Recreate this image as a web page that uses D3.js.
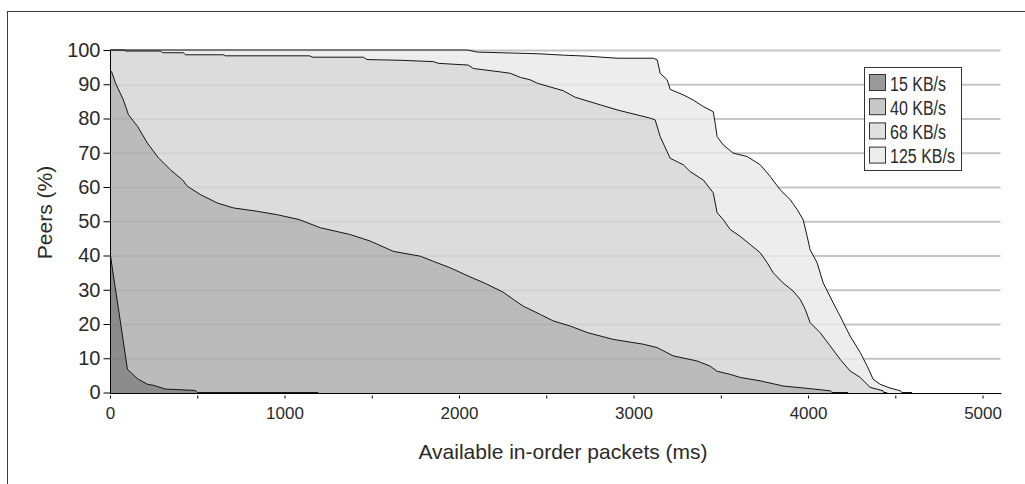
<!DOCTYPE html>
<html>
<head>
<meta charset="utf-8">
<script src="https://cdn.jsdelivr.net/npm/d3@7"></script>
<style>
  body { margin: 0; background: #fff; }
  svg { display: block; font-family: "Liberation Sans", Arial, sans-serif; }
</style>
</head>
<body>
<div id="chart"></div>
<script>
const seriesNames = ["15 KB/s", "40 KB/s", "68 KB/s", "125 KB/s"];
const xTicks = [0, 1000, 2000, 3000, 4000, 5000];
const xMinorTicks = [500, 1500, 2500, 3500, 4500];
const yTicks = [0, 10, 20, 30, 40, 50, 60, 70, 80, 90, 100];

// [packets (ms), peers (%)]
const kb15 = [[0, 40], [17, 34], [46, 24.3], [97, 6.8], [155, 4], [212, 2.4], [246, 2.1],
  [315, 1.0], [487, 0.6], [498, 0], [1191, 0]];

const kb40 = [[0, 94], [6, 93.7], [29, 90.3], [74, 85.4], [103, 81.1], [155, 77.7], [212, 72.8],
  [275, 68.5], [344, 65.0], [412, 62.1], [441, 60.2], [515, 57.8], [613, 55.3], [704, 53.9],
  [842, 52.9], [956, 51.9], [1080, 50.5], [1203, 48.1], [1375, 46.1], [1489, 44.2], [1621, 41.2],
  [1775, 39.8], [1850, 38.3], [1947, 36.4], [2050, 34], [2150, 31.8], [2250, 29.3], [2308, 27.2],
  [2365, 25.2], [2463, 22.8], [2537, 20.9], [2635, 19.4], [2732, 17.5], [2881, 15.5], [3053, 14.1],
  [3133, 13.1], [3224, 10.7], [3362, 9.2], [3436, 7.7], [3476, 6.2], [3551, 5.3], [3608, 4.4],
  [3723, 3.4], [3854, 1.9], [3992, 1.2], [4124, 0.5], [4135, 0], [4227, 0]];

const kb68 = [[0, 100], [74, 100], [90, 99.7], [286, 99.7], [300, 99.2], [418, 99.2], [430, 98.6],
  [647, 98.6], [660, 98.3], [1140, 98.3], [1160, 97.9], [1450, 97.9], [1470, 97.2], [1661, 97.0],
  [1850, 96.6], [1879, 96.1], [2050, 95.6], [2079, 94.6], [2234, 93.6], [2291, 93.2], [2348, 92.0],
  [2405, 91.3], [2446, 90.3], [2595, 88.1], [2663, 86.2], [2806, 84.0], [2904, 82.5], [3093, 80.1],
  [3121, 79.6], [3150, 74.7], [3207, 68.4], [3282, 66.5], [3322, 64.5], [3379, 62.6], [3396, 62.1],
  [3454, 58.3], [3476, 52.5], [3511, 50.5], [3551, 47.6], [3608, 45.6], [3666, 43.2], [3723, 40.8],
  [3763, 37.9], [3797, 35.0], [3854, 32.0], [3912, 29.6], [3952, 27.2], [3981, 24.3], [4009, 20.4],
  [4066, 17.5], [4124, 13.6], [4181, 9.7], [4238, 6.3], [4296, 4.4], [4353, 1.5], [4427, 0.5],
  [4430, 0], [4450, 0]];

const kb125 = [[0, 100], [2045, 100], [2102, 99.4], [2451, 98.9], [2595, 98.5], [2732, 98.2],
  [2904, 97.6], [3110, 97.6], [3133, 97.1], [3150, 93.2], [3190, 91.3], [3207, 88.5], [3282, 86.9],
  [3339, 85.4], [3396, 83.5], [3454, 82.0], [3465, 78.6], [3476, 74.7], [3511, 72.3], [3568, 69.9],
  [3648, 68.9], [3723, 66.5], [3780, 63.1], [3837, 59.2], [3895, 56.3], [3935, 53.4], [3969, 50.5],
  [3992, 45.6], [4009, 41.7], [4049, 37.9], [4084, 32.0], [4141, 26.2], [4181, 22.3], [4238, 16.5],
  [4296, 11.7], [4336, 7.7], [4370, 3.9], [4410, 2.4], [4467, 1.3], [4525, 0.5], [4536, 0], [4593, 0]];

const series = [kb15, kb40, kb68, kb125];
const areaColors = ["#8c8c8c", "#bbbbbb", "#dcdcdc", "#ededed"];
const swatchColors = ["#9a9a9a", "#c8c8c8", "#e0e0e0", "#ececec"];

const width = 1025, height = 484;

const svg = d3.select("#chart")
  .append("svg")
  .attr("width", width)
  .attr("height", height);

// outer frame
svg.append("rect")
  .attr("x", 7.5)
  .attr("y", 11.5)
  .attr("width", 1030)
  .attr("height", 480)
  .attr("fill", "#fff")
  .attr("stroke", "#3a3a3a");

const xScale = d3.scaleLinear().domain([0, 5100]).range([110.5, 1000.5]);
const yScale = d3.scaleLinear().domain([0, 100]).range([392.5, 50]);
const axisY = 393.5; // x axis sits one pixel under the zero level

// gridlines under the areas
const yGrid = d3.axisLeft(yScale).tickValues(yTicks.slice(1))
  .tickSize(-(xScale.range()[1] - xScale.range()[0])).tickFormat("");
svg.append("g")
  .attr("transform", `translate(${xScale(0)},0)`)
  .call(yGrid)
  .call((g) => g.select(".domain").remove())
  .call((g) => g.selectAll("line").attr("stroke", "#cdcdcd").attr("stroke-width", 2));

const area = d3.area()
  .x((d) => xScale(d[0]))
  .y0(axisY)
  .y1((d) => yScale(d[1]));

const line = d3.line()
  .x((d) => xScale(d[0]))
  .y((d) => yScale(d[1]));

// largest first so the smaller rates sit on top
for (let i = series.length - 1; i >= 0; i--) {
  svg.append("path")
    .datum(series[i])
    .attr("d", area)
    .attr("fill", areaColors[i]);
}

// faint gridlines over the fills
svg.append("g")
  .attr("transform", `translate(${xScale(0)},0)`)
  .call(yGrid)
  .call((g) => g.select(".domain").remove())
  .call((g) => g.selectAll("line").attr("stroke", "rgba(0,0,0,0.045)").attr("stroke-width", 2));

for (let i = series.length - 1; i >= 0; i--) {
  svg.append("path")
    .datum(series[i])
    .attr("d", line)
    .attr("fill", "none")
    .attr("stroke", "#151515")
    .attr("stroke-width", 1);
}

// Y axis
const yAxis = d3.axisLeft(yScale).tickValues(yTicks).tickSize(7).tickPadding(3);
svg.append("g")
  .attr("transform", `translate(${xScale(0)},0)`)
  .call(yAxis)
  .call((g) => g.select(".domain").attr("stroke", "#000").attr("d", `M0,${yScale(100)}V${axisY}`))
  .call((g) => g.selectAll("text")
    .attr("font-size", 20)
    .attr("fill", "#2a2a2a")
    .attr("font-family", "Liberation Sans, Arial, sans-serif"));

// X axis
svg.append("line")
  .attr("x1", xScale(0))
  .attr("x2", 1001.5)
  .attr("y1", axisY)
  .attr("y2", axisY)
  .attr("stroke", "#000");

svg.append("g")
  .selectAll("line")
  .data(xTicks.concat(xMinorTicks))
  .join("line")
  .attr("x1", (d) => xScale(d))
  .attr("x2", (d) => xScale(d))
  .attr("y1", axisY + 2)
  .attr("y2", axisY + 5)
  .attr("stroke", "#000");

svg.append("g")
  .selectAll("text")
  .data(xTicks)
  .join("text")
  .attr("x", (d) => xScale(d))
  .attr("y", 419)
  .attr("text-anchor", "middle")
  .attr("font-size", 17)
  .attr("fill", "#2a2a2a")
  .text((d) => d);

// axis titles
svg.append("text")
  .attr("x", 563)
  .attr("y", 459)
  .attr("text-anchor", "middle")
  .attr("font-size", 21)
  .attr("fill", "#2a2a2a")
  .text("Available in-order packets (ms)");

svg.append("text")
  .attr("transform", "translate(52,212.5) rotate(-90)")
  .attr("text-anchor", "middle")
  .attr("font-size", 21)
  .attr("fill", "#2a2a2a")
  .text("Peers (%)");

// legend
const legend = svg.append("g").attr("transform", "translate(864.5,67.5)");

legend.append("rect")
  .attr("width", 97)
  .attr("height", 103)
  .attr("fill", "#fff")
  .attr("stroke", "#333");

const rows = legend.selectAll("g")
  .data(seriesNames)
  .join("g")
  .attr("transform", (d, i) => `translate(5,${7 + i * 24.2})`);

rows.append("rect")
  .attr("width", 16)
  .attr("height", 16)
  .attr("fill", (d, i) => swatchColors[i])
  .attr("stroke", "#333");

rows.append("text")
  .attr("transform", "translate(20.5,16) scale(0.8,1)")
  .attr("font-size", 20)
  .attr("fill", "#2a2a2a")
  .text((d) => d);
</script>
</body>
</html>
